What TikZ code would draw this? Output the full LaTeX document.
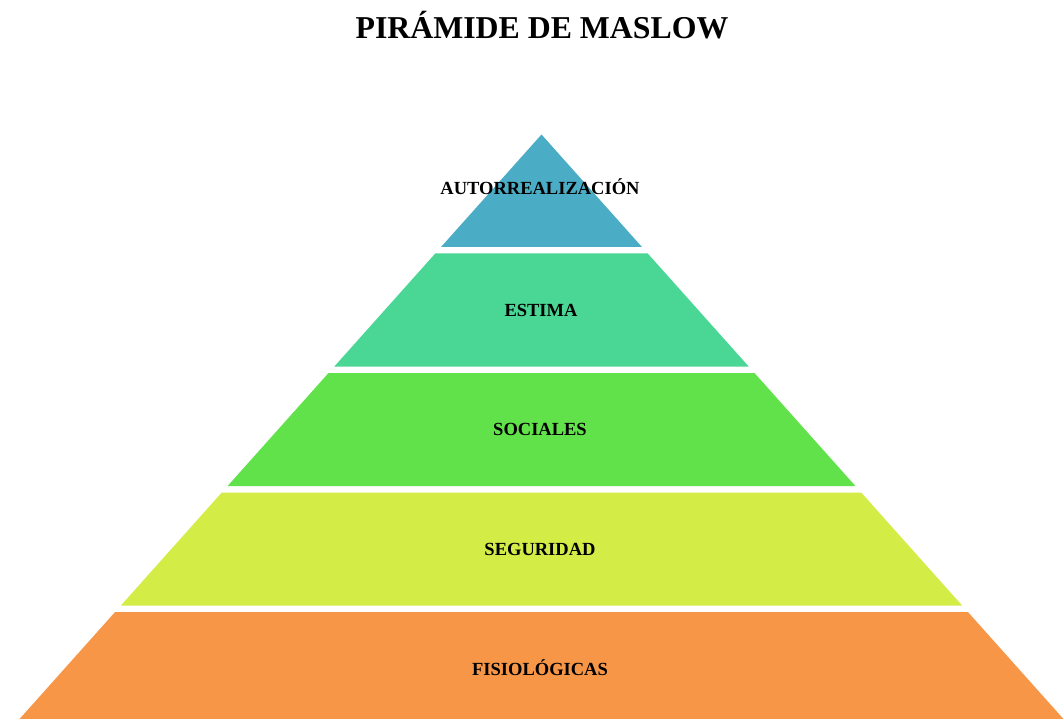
\documentclass[tikz,border=0pt]{standalone}
\usepackage{fontspec}
\setmainfont{Liberation Serif}
\definecolor{cAuto}{HTML}{4BACC6}
\definecolor{cEstima}{HTML}{4AD694}
\definecolor{cSocial}{HTML}{62E24A}
\definecolor{cSegur}{HTML}{D4EC46}
\definecolor{cFisio}{HTML}{F79646}
\tikzset{
  layer/.style={draw=none},
  lbl/.style={anchor=base, font=\bfseries\fontsize{18.5}{20}\selectfont, text=black, inner sep=0pt},
  ttl/.style={anchor=base, font=\bfseries\fontsize{31.8}{34}\selectfont, text=black, inner sep=0pt}
}
\begin{document}
\begin{tikzpicture}[x=1pt,y=-1pt]
\useasboundingbox (0,0) rectangle (1063,719);
\def\cx{541.5}
\def\s{0.893}
% layer(top,bottom,color)
\newcommand{\mylayer}[3]{%
  \pgfmathsetmacro{\tl}{\cx-(#1-134.5)*\s}%
  \pgfmathsetmacro{\tr}{\cx+(#1-134.5)*\s}%
  \pgfmathsetmacro{\bl}{\cx-(#2-134.5)*\s}%
  \pgfmathsetmacro{\br}{\cx+(#2-134.5)*\s}%
  \fill[layer,#3] (\tl,#1) -- (\tr,#1) -- (\br,#2) -- (\bl,#2) -- cycle;}
\mylayer{134.5}{247}{cAuto}
\mylayer{253.5}{366.5}{cEstima}
\mylayer{373}{486}{cSocial}
\mylayer{492.5}{605.5}{cSegur}
\mylayer{612}{725}{cFisio}
\node[ttl] (title) at (542,38.3) {PIRÁMIDE DE MASLOW};
\node[lbl] (auto) at (540,195) {AUTORREALIZACIÓN};
\node[lbl] (estima) at (541,316.5) {ESTIMA};
\node[lbl] (social) at (540,435.5) {SOCIALES};
\node[lbl] (segur) at (540,555) {SEGURIDAD};
\node[lbl] (fisio) at (540,675) {FISIOLÓGICAS};
\end{tikzpicture}
\end{document}
